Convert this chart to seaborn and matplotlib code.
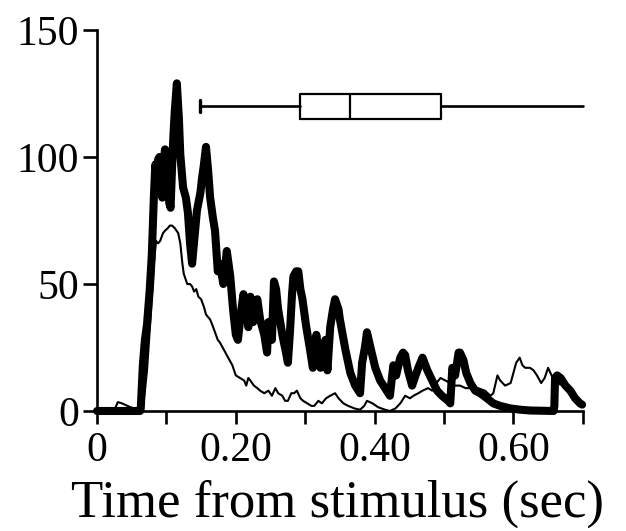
import matplotlib
matplotlib.use("Agg")
import matplotlib.pyplot as plt
import pandas as pd
import seaborn as sns

# Thick trace (time in s, firing rate)
thick_t = [0, 0.062, 0.063, 0.066, 0.069, 0.072, 0.076, 0.079, 0.082, 0.084, 0.086, 0.088,
           0.090, 0.092, 0.094, 0.096, 0.098, 0.100, 0.102, 0.104, 0.106, 0.108, 0.110, 0.112,
           0.115, 0.118, 0.120, 0.124, 0.128, 0.131,
           0.134, 0.137, 0.141, 0.144, 0.149, 0.151, 0.154, 0.157, 0.160, 0.163, 0.167, 0.170,
           0.174, 0.177, 0.182, 0.185, 0.187, 0.192, 0.196, 0.200, 0.203, 0.208, 0.211, 0.215,
           0.218, 0.221, 0.225, 0.228, 0.231, 0.235, 0.241, 0.245, 0.247, 0.249, 0.252, 0.255,
           0.258, 0.261, 0.267, 0.273, 0.275, 0.278, 0.281, 0.283, 0.287, 0.290, 0.293, 0.296,
           0.301, 0.307, 0.311, 0.316, 0.319, 0.322, 0.326, 0.329, 0.332, 0.336, 0.340, 0.343,
           0.348, 0.350, 0.358, 0.365, 0.372, 0.379, 0.382, 0.386, 0.389, 0.394, 0.401, 0.408,
           0.415, 0.422, 0.427, 0.431, 0.437, 0.441, 0.444, 0.448, 0.454, 0.459, 0.463, 0.469,
           0.476, 0.483, 0.490, 0.497, 0.506, 0.509, 0.512, 0.516, 0.521, 0.523, 0.528, 0.532,
           0.538, 0.545, 0.552, 0.562, 0.571, 0.581, 0.596, 0.610, 0.624, 0.658, 0.659, 0.660,
           0.663, 0.668, 0.675, 0.682, 0.689, 0.696, 0.699]
thick_rate = [0, 0, 1, 18, 28, 34, 48, 62, 85, 97, 94, 99,
              100, 92, 84, 98, 103, 90, 96, 82, 80, 95, 108, 118,
              129, 115, 101, 88, 84, 78,
              66, 58, 70, 79, 86, 91, 97, 104, 95, 84, 76, 71,
              55, 58, 50, 58, 63, 53, 40, 30, 28, 40, 46, 40,
              33, 45, 35, 43, 44, 36, 30, 23, 35, 31, 28, 51,
              48, 40, 30, 22, 19, 31, 46, 53, 55, 55, 48, 44,
              34, 24, 17, 30, 24, 17, 25, 28, 16, 33, 40, 44,
              40, 36, 24, 15, 10, 7, 19, 25, 31, 25, 17, 12,
              9, 6, 18, 14, 21, 23, 22, 16, 10, 14, 17, 21,
              16, 12, 8, 6, 4, 3, 17, 14, 23, 23, 20, 15,
              11, 8, 7, 5, 3, 2, 1, 0.5, 0.2, 0, 2, 13,
              14, 13, 10, 8, 5, 3, 2.5]

# Thin trace
thin_t = [0, 0.019, 0.026, 0.030, 0.036, 0.048, 0.059, 0.063, 0.066, 0.069, 0.072, 0.076,
          0.079, 0.082, 0.085, 0.088, 0.091, 0.095, 0.098, 0.102, 0.105, 0.108, 0.112, 0.117,
          0.120, 0.123, 0.125, 0.130, 0.134, 0.137, 0.140, 0.143, 0.146, 0.150, 0.154, 0.157,
          0.160, 0.163, 0.166, 0.170, 0.174, 0.177, 0.183, 0.189, 0.195, 0.200, 0.206, 0.212,
          0.215, 0.218, 0.221, 0.226, 0.231, 0.235, 0.241, 0.247, 0.252, 0.257, 0.261, 0.267,
          0.271, 0.275, 0.280, 0.284, 0.288, 0.293, 0.297, 0.303, 0.309, 0.313, 0.319, 0.324,
          0.330, 0.336, 0.343, 0.348, 0.355, 0.362, 0.371, 0.379, 0.385, 0.389, 0.397, 0.405,
          0.415, 0.422, 0.430, 0.437, 0.444, 0.451, 0.456, 0.463, 0.469, 0.477, 0.483, 0.489,
          0.495, 0.502, 0.509, 0.516, 0.523, 0.531, 0.538, 0.549, 0.559, 0.567, 0.571, 0.577,
          0.581, 0.588, 0.596, 0.600, 0.604, 0.609, 0.613, 0.617, 0.624, 0.629, 0.634, 0.640,
          0.645, 0.650, 0.655, 0.659, 0.663, 0.671, 0.675, 0.682, 0.689, 0.699]
thin_rate = [0.5, 0.5, 1, 3.5, 3, 1.5, 0.5, 0, 1, 8, 16, 32,
             45, 58, 67, 66, 67, 70, 71, 72, 73, 73, 72, 70,
             66, 58, 54, 50, 50, 49, 47, 48, 45, 44, 41, 38,
             37, 36, 34, 31, 28, 27, 24, 21, 18, 14, 13, 12,
             10, 13, 12, 10, 9, 8, 7, 8, 6, 9, 7, 6,
             4, 4, 7, 7, 8, 5, 4, 3, 2, 2, 4, 3,
             5, 6, 7, 5, 3, 2, 1, 0.5, 2, 4, 3, 1.5,
             0.5, 0, 1, 3, 6, 5, 6, 7, 8, 9, 8, 11,
             13, 12, 11, 10, 10, 9, 9, 9, 8, 6, 7, 14,
             12, 10, 11, 15, 19, 21, 18, 17, 17, 16, 14, 11,
             13, 17, 14, 12, 11, 10, 9, 7, 5, 3]

# Box plot summary (latency distribution)
box_whislo, box_q1, box_med, box_q3, box_whishi = 0.149, 0.293, 0.364, 0.496, 0.70
box_level = 120

x_ticks = [0, 0.1, 0.2, 0.3, 0.4, 0.5, 0.6, 0.7]
x_ticklabels = ["0", "", "0.20", "", "0.40", "", "0.60", ""]
y_ticks = [0, 50, 100, 150]
x_label = "Time from stimulus (sec)"

sns.set_style("ticks")
plt.rcParams["font.family"] = ["Liberation Serif", "DejaVu Serif"]

fig = plt.figure(figsize=(6.26, 5.31), dpi=100)
ax = fig.add_axes([0.155, 0.226, 0.776, 0.7175])

thin_df = pd.DataFrame({"t": thin_t, "rate": thin_rate})
thick_df = pd.DataFrame({"t": thick_t, "rate": thick_rate})
sns.lineplot(data=thin_df, x="t", y="rate", color="black", linewidth=1.5,
             estimator=None, ax=ax, clip_on=False)
sns.lineplot(data=thick_df, x="t", y="rate", color="black", linewidth=5.8,
             estimator=None, ax=ax, clip_on=False, solid_joinstyle="round",
             solid_capstyle="round")

stats = [dict(whislo=box_whislo, q1=box_q1, med=box_med, q3=box_q3,
              whishi=box_whishi, fliers=[])]
art = ax.bxp(stats, positions=[box_level], widths=10, orientation="horizontal",
             showfliers=False, capwidths=[4.5],
             boxprops=dict(color="black", linewidth=1.6),
             medianprops=dict(color="black", linewidth=1.6),
             whiskerprops=dict(color="black", linewidth=1.9),
             capprops=dict(color="black", linewidth=2.4), manage_ticks=False)
art["caps"][1].set_visible(False)
for ln in art["whiskers"] + art["caps"]:
    ln.set_clip_on(False)

ax.set_xlim(0, 0.70)
ax.set_ylim(0, 150)
ax.set_xticks(x_ticks)
ax.set_xticklabels(x_ticklabels)
ax.set_yticks(y_ticks)
ax.set_ylabel("")
ax.set_xlabel(x_label, fontsize=38, color="black")
ax.xaxis.label.set_va("baseline")
ax.xaxis.set_label_coords(0.495, -0.278)
ax.tick_params(axis="x", length=9, width=1.9, labelsize=30, pad=6,
               color="black", labelcolor="black")
ax.tick_params(axis="y", length=10, width=1.9, labelsize=30, pad=3,
               color="black", labelcolor="black")
sns.despine(ax=ax)
for s in ("left", "bottom"):
    ax.spines[s].set_linewidth(1.9)
    ax.spines[s].set_color("black")

fig.savefig("out.png", dpi=100, facecolor="white")
